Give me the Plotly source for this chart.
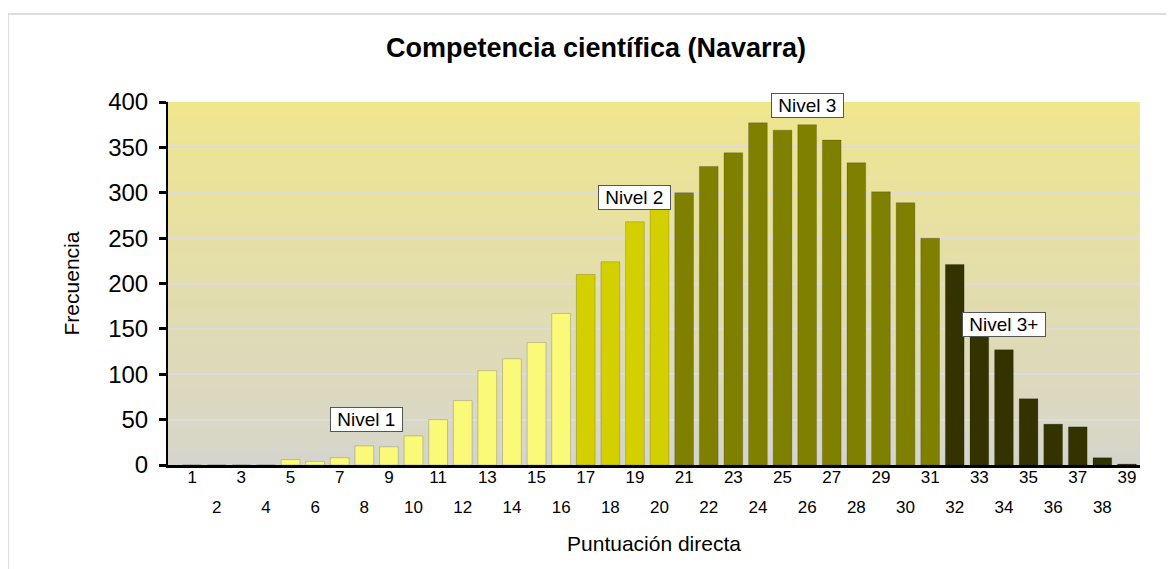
import plotly.graph_objects as go

# Puntuación directa (1..39) y frecuencia
scores = list(range(1, 40))
freq = [0, 0, 0, 0, 6, 4, 8, 21, 20, 32,
        50, 71, 104, 117, 135, 167, 210, 224, 268, 284,
        300, 329, 344, 377, 369, 375, 358, 333, 301, 289,
        250, 221, 145, 127, 73, 45, 42, 8, 1]

# nivel asignado a cada puntuación
level_edges = [(1, 16, "Nivel 1"), (17, 20, "Nivel 2"), (21, 31, "Nivel 3"), (32, 39, "Nivel 3+")]
level_colors = {"Nivel 1": "#FAFA78", "Nivel 2": "#D4D000", "Nivel 3": "#808000", "Nivel 3+": "#333300"}
level_label_pos = {"Nivel 1": (8.1, 50), "Nivel 2": (19.0, 295), "Nivel 3": (26.0, 396), "Nivel 3+": (34.0, 155)}

y_ticks = [0, 50, 100, 150, 200, 250, 300, 350, 400]


def level_of(s):
    for lo, hi, name in level_edges:
        if lo <= s <= hi:
            return name
    return None


colors = [level_colors[level_of(s)] for s in scores]

odd = [i for i, s in enumerate(scores) if s % 2 == 1]
even = [i for i, s in enumerate(scores) if s % 2 == 0]

fig = go.Figure()
fig.add_trace(go.Bar(
    x=[scores[i] for i in odd], y=[freq[i] for i in odd],
    marker=dict(color=[colors[i] for i in odd], line=dict(color="rgba(0,0,0,0.18)", width=1)),
    width=0.76, xaxis="x", yaxis="y", showlegend=False,
))
fig.add_trace(go.Bar(
    x=[scores[i] for i in even], y=[freq[i] for i in even],
    marker=dict(color=[colors[i] for i in even], line=dict(color="rgba(0,0,0,0.18)", width=1)),
    width=0.76, xaxis="x2", yaxis="y", showlegend=False,
))

# gradient background (khaki -> light gray)
top = (240, 230, 140)
bottom = (214, 213, 205)
n = 60
for k in range(n):
    t = k / (n - 1)
    c = tuple(round(top[j] + (bottom[j] - top[j]) * t) for j in range(3))
    fig.add_shape(
        type="rect", xref="x domain", yref="y domain",
        x0=0, x1=1, y0=1 - (k + 1) / n, y1=1 - k / n,
        fillcolor=f"rgb{c}", line_width=0, layer="below",
    )

# frame lines of the original widget
fig.add_shape(type="line", xref="paper", yref="paper", x0=-0.1646, x1=1.05, y0=1.2424, y1=1.2424,
              line=dict(color="#dddddd", width=2))
fig.add_shape(type="line", xref="paper", yref="paper", x0=-0.1646, x1=-0.1646, y0=-0.3, y1=1.2424,
              line=dict(color="#dddddd", width=2))

for name, (ax, ay) in level_label_pos.items():
    fig.add_annotation(
        x=ax, y=ay, xref="x", yref="y", text="&nbsp;" + name + "&nbsp;", showarrow=False,
        font=dict(size=19, color="#000000"),
        bgcolor="white", bordercolor="#555555", borderwidth=1, borderpad=1,
    )

xrange = [0.02, 39.53]
fig.update_layout(
    width=1166,
    height=561,
    title=dict(text="<b>Competencia científica (Navarra)</b>", x=0.5043, xanchor="center",
               y=0.9287, yanchor="middle", font=dict(size=27, color="#000000")),
    font=dict(family="Liberation Sans, Arial, sans-serif", color="#000000"),
    paper_bgcolor="white",
    plot_bgcolor="#e0dcb0",
    barmode="overlay",
    margin=dict(l=160, r=34, t=94, b=104),
    xaxis=dict(
        range=xrange, tickmode="array", tickvals=[scores[i] for i in odd],
        ticks="", showgrid=False, zeroline=False,
        showline=True, linecolor="#000000", linewidth=3,
        tickfont=dict(size=17), ticklabelstandoff=-5,
        title=dict(text="Puntuación directa", font=dict(size=21), standoff=50),
    ),
    xaxis2=dict(
        range=xrange, overlaying="x", anchor="y", side="bottom",
        tickmode="array", tickvals=[scores[i] for i in even],
        ticks="", showgrid=False, zeroline=False, showline=False,
        tickfont=dict(size=17), ticklabelstandoff=30,
    ),
    yaxis=dict(
        range=[0, 400], tickmode="array", tickvals=y_ticks,
        showgrid=True, gridcolor="#dcdcdc", gridwidth=2, zeroline=False,
        showline=True, linecolor="#000000", linewidth=2,
        ticks="outside", ticklen=7, tickwidth=3, tickcolor="#000000",
        tickfont=dict(size=24), ticklabelstandoff=6,
        title=dict(text="Frecuencia", font=dict(size=21), standoff=23),
    ),
)

fig.write_html("out.html")
